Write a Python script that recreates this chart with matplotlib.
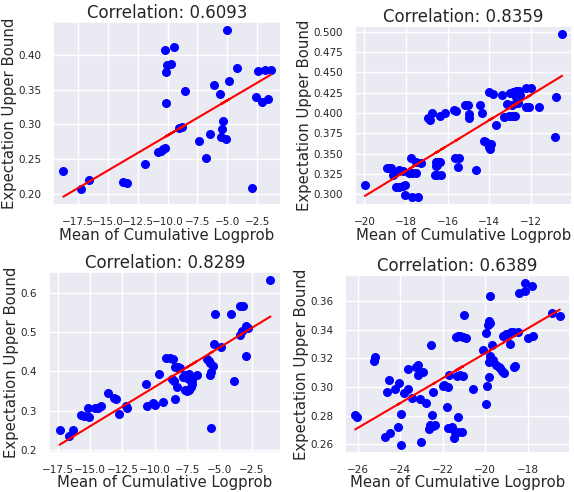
import numpy as np
import matplotlib
matplotlib.use("Agg")
import matplotlib.pyplot as plt
import seaborn as sns

sns.set_theme(style="darkgrid")

# panel 1
x1 = [-18.7, -17.25, -16.53, -13.69, -13.36, -11.92, -10.8, -10.58, -10.42, -10.25,
      -10.25, -9.42, -10.08, -9.75, -10.14, -10.14, -8.58, -9.06, -8.83, -7.36,
      -6.81, -6.47, -6.14, -5.64, -5.03, -4.86, -5.36, -5.44, -5.53, -5.08,
      -4.19, -2.92, -2.64, -2.44, -2.08, -1.89, -1.61, -1.39]
y1 = [0.2326, 0.2068, 0.220, 0.2175, 0.215, 0.2424, 0.261, 0.2625, 0.264, 0.2655,
      0.4075, 0.412, 0.386, 0.3875, 0.375, 0.331, 0.348, 0.2945, 0.297, 0.2755,
      0.251, 0.286, 0.357, 0.344, 0.4357, 0.363, 0.305, 0.294, 0.282, 0.2785,
      0.3807, 0.208, 0.339, 0.3773, 0.3325, 0.378, 0.3368, 0.378]

# panel 2
x2 = [-19.98, -18.94, -18.82, -18.71, -18.63, -18.48, -18.32, -18.16, -18.07, -18.35,
      -18.16, -18.04, -17.76, -17.85, -17.70, -17.54, -17.73, -17.45, -17.51, -17.26,
      -16.95, -16.83, -16.73, -16.61, -16.49, -16.58, -16.49, -16.43, -16.55, -16.36,
      -16.36, -16.14, -16.33, -15.68, -15.58, -15.64, -15.46, -15.52, -15.15, -15.02,
      -14.99, -14.96, -14.62, -14.46, -14.37, -14.25, -14.18, -14.03, -13.81, -13.97,
      -13.9, -14.0, -13.69, -13.37, -13.31, -13.03, -12.91, -12.75, -13.13, -12.91,
      -12.72, -12.6, -13.0, -12.85, -12.72, -12.57, -12.72, -12.53, -12.25, -12.0,
      -12.22, -12.1, -11.63, -10.82, -10.79, -10.5]
y2 = [0.3107, 0.3326, 0.3326, 0.3318, 0.3235, 0.309, 0.3087, 0.3095, 0.311, 0.3293,
      0.3285, 0.2988, 0.345, 0.3264, 0.3256, 0.326, 0.2967, 0.2967, 0.340, 0.3388,
      0.3933, 0.3913, 0.4004, 0.3235, 0.3235, 0.339, 0.3365, 0.340, 0.3345, 0.339,
      0.3958, 0.4004, 0.3231, 0.4041, 0.4028, 0.345, 0.3442, 0.3339, 0.4099, 0.4099,
      0.3987, 0.3938, 0.3293, 0.4099, 0.4004, 0.3657, 0.364, 0.4256, 0.4239, 0.3553,
      0.3615, 0.358, 0.3847, 0.4223, 0.3946, 0.3962, 0.3962, 0.3962, 0.411, 0.410,
      0.412, 0.412, 0.4243, 0.4256, 0.4276, 0.4276, 0.4194, 0.422, 0.431, 0.431,
      0.4078, 0.4078, 0.407, 0.3698, 0.4194, 0.497]

# panel 3
x3 = [-17.37, -16.65, -16.32, -15.7, -15.5, -15.16, -15.06, -14.6, -14.39, -14.16,
      -13.64, -13.18, -12.98, -12.77, -12.2, -12.15, -10.71, -10.61, -10.1, -10.0,
      -9.69, -9.38, -9.12, -8.86, -8.61, -8.66, -8.5, -8.45, -8.4, -8.2,
      -8.04, -8.25, -7.83, -7.63, -7.53, -7.37, -7.63, -7.53, -7.37, -7.22,
      -7.11, -7.27, -6.76, -7.11, -5.98, -5.83, -5.73, -5.52, -5.67, -5.73,
      -5.67, -5.42, -5.31, -4.85, -4.13, -3.88, -3.41, -3.21, -3.41, -3.26,
      -2.95, -2.95, -2.8, -1.05]
y3 = [0.2505, 0.2364, 0.2505, 0.2878, 0.2861, 0.306, 0.2828, 0.3068, 0.3068, 0.311,
      0.3457, 0.3333, 0.3308, 0.2927, 0.311, 0.3076, 0.3689, 0.3126, 0.3192, 0.3143,
      0.3921, 0.3225, 0.4335, 0.4352, 0.4327, 0.3797, 0.3747, 0.3292, 0.412, 0.4103,
      0.4087, 0.359, 0.3855, 0.3904, 0.3838, 0.3937, 0.3515, 0.350, 0.3533, 0.360,
      0.3689, 0.3772, 0.3904, 0.379, 0.431, 0.427, 0.422, 0.4145, 0.398, 0.392,
      0.2547, 0.4699, 0.5469, 0.4616, 0.5469, 0.3755, 0.566, 0.566, 0.493, 0.503,
      0.4385, 0.5163, 0.5113, 0.632]

# panel 4
x4 = [-26.11, -26.02, -25.24, -25.18, -24.69, -24.63, -24.5, -24.47, -24.22, -24.07,
      -23.98, -24.1, -23.98, -23.82, -23.64, -23.61, -23.42, -23.27, -23.17, -23.17,
      -23.08, -23.02, -22.93, -22.8, -22.62, -22.59, -22.56, -22.49, -22.43, -22.37,
      -22.43, -22.0, -21.94, -21.78, -21.75, -21.75, -21.66, -21.69, -21.54, -21.47,
      -21.38, -21.26, -21.17, -21.04, -21.41, -21.29, -21.07, -21.32, -21.17, -21.04,
      -21.29, -21.01, -20.92, -20.55, -20.08, -19.96, -19.96, -19.9, -19.87, -19.81,
      -19.78, -19.81, -19.78, -19.84, -19.75, -19.71, -19.68, -19.62, -19.5, -19.37,
      -19.28, -19.19, -19.13, -19.16, -19.03, -18.91, -18.79, -18.82, -18.69, -18.66,
      -18.6, -18.45, -18.42, -18.14, -18.11, -17.98, -17.8, -17.77, -16.87, -16.49]
y4 = [0.2805, 0.279, 0.3184, 0.3207, 0.2648, 0.2968, 0.3052, 0.2675, 0.2984, 0.3029,
      0.2808, 0.2721, 0.2595, 0.2961, 0.2984, 0.3123, 0.292, 0.3143, 0.3152, 0.3086,
      0.2915, 0.2618, 0.3105, 0.2888, 0.2703, 0.2732, 0.329, 0.2805, 0.2728, 0.2732,
      0.2968, 0.3006, 0.3011, 0.2858, 0.3002, 0.271, 0.2714, 0.3084, 0.2721, 0.2646,
      0.3349, 0.3358, 0.3353, 0.3349, 0.2682, 0.2687, 0.2687, 0.3075, 0.3086, 0.308,
      0.2787, 0.3506, 0.3344, 0.2984, 0.3258, 0.3376, 0.2879, 0.3006, 0.3436, 0.3458,
      0.3449, 0.307, 0.3634, 0.3171, 0.3216, 0.3196, 0.3292, 0.3189, 0.3152, 0.3139,
      0.3132, 0.3109, 0.3098, 0.3353, 0.3367, 0.3372, 0.3381, 0.3303, 0.3381, 0.3143,
      0.3148, 0.3381, 0.3659, 0.3673, 0.3726, 0.3344, 0.3703, 0.3353, 0.352, 0.3497]

# fitted lines (slope, intercept)
fit_slope = [0.01014, 0.0156, 0.0200, 0.0087]
fit_intercept = [0.3856, 0.6095, 0.5606, 0.4975]

titles = ["Correlation: 0.6093", "Correlation: 0.8359",
          "Correlation: 0.8289", "Correlation: 0.6389"]

xticks = [np.arange(-17.5, 0, 2.5), np.arange(-20, -11, 2),
          np.arange(-17.5, 0, 2.5), np.arange(-26, -17, 2)]
yticks = [np.arange(0.20, 0.41, 0.05), np.arange(0.300, 0.501, 0.025),
          np.arange(0.2, 0.61, 0.1), np.arange(0.26, 0.361, 0.02)]
yfmt = ["%.2f", "%.3f", "%.1f", "%.2f"]
xfmt = ["%.1f", "%d", "%.1f", "%d"]

# axes boxes in pixels: left, top, right, bottom
boxes = [(53, 22, 281, 205), (355, 26, 572, 205),
         (49, 272, 281, 453), (345, 275, 570, 453)]

W, H = 574, 492
fig = plt.figure(figsize=(5.74, 4.92), dpi=100)
data = zip([x1, x2, x3, x4], [y1, y2, y3, y4])
for i, (x, y) in enumerate(data):
    l, t, r, b = boxes[i]
    ax = fig.add_axes([l / W, 1 - b / H, (r - l) / W, (b - t) / H])
    x = np.array(x)
    y = np.array(y)
    ax.scatter(x, y, color="blue", s=30, zorder=2)
    ax.plot(x, fit_slope[i] * x + fit_intercept[i], color="red", linewidth=1.5, zorder=3)
    ax.set_xticks(xticks[i])
    ax.set_yticks(yticks[i])
    ax.set_yticklabels([yfmt[i] % v for v in yticks[i]])
    ax.set_xticklabels([(xfmt[i] % v).replace("-", "\u2212") for v in xticks[i]])
    ax.set_title(titles[i], fontsize=12, pad=3)
    ax.set_xlabel("Mean of Cumulative Logprob", fontsize=10.7, labelpad=0.5)
    ax.set_ylabel("Expectation Upper Bound", fontsize=10.7, labelpad=1)
    ax.tick_params(labelsize=7.5, pad=2.5)

plt.savefig("out.png")
